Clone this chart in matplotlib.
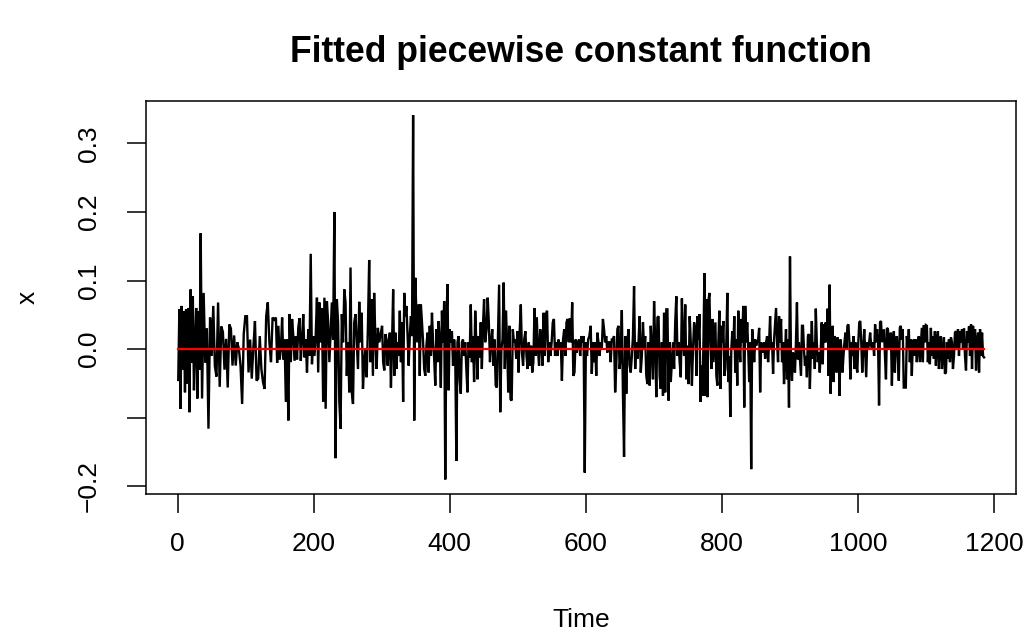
import numpy as np
import matplotlib
matplotlib.use("Agg")
import matplotlib.pyplot as plt

plt.rcParams['font.family'] = ['Liberation Sans', 'DejaVu Sans']

# ---- data: series, segment by segment (start time, end time, values)
seg1a_span = (1, 34)
seg1a = [-0.045, 0.058, -0.087, 0.063, -0.030, 0.055, -0.063, 0.058, -0.050, 0.060, -0.092, 0.087, -0.020,
         0.077, -0.060, 0.010, 0.060, -0.072, 0.055, -0.030, 0.169]
seg1b_span = (36, 142)
seg1b = [-0.072, 0.082, -0.020, 0.030, -0.116,
         0.046, -0.010, 0.063, -0.025, -0.040, 0.068, -0.055, 0.033, 0.025, -0.030, 0.015, -0.056, 0.036,
         0.030, -0.024, 0.020, -0.024, 0.010, 0.000, -0.024, -0.080, 0.022, 0.048, 0.048, -0.034, 0.014,
         -0.043, 0.002, 0.041, -0.046, -0.043, 0.019, -0.029, -0.048, -0.058, 0.048, 0.068, 0.010, -0.019,
         0.046, 0.043]
seg2_span = (144.5, 298)
seg2 = [0.046, -0.020, 0.034, -0.015, 0.000, 0.046, -0.015, 0.014, -0.077, 0.014, -0.104, 0.051, -0.019,
        0.044, 0.019, -0.017, 0.019, -0.015, 0.031, 0.045, -0.017, 0.014, 0.051, -0.012, 0.014, -0.034,
        0.029, -0.010, 0.139, -0.022, 0.019, -0.010, 0.019, 0.075, -0.034, 0.068, 0.010, 0.060, -0.077,
        0.075, -0.087, 0.070, 0.039, -0.019, 0.024, 0.068, 0.014, 0.200, -0.159, 0.073, 0.039, -0.077,
        -0.116, 0.051, 0.010, 0.087, 0.068, -0.039, 0.010, -0.063, 0.119, -0.063, -0.080, 0.039, 0.051,
        0.010, -0.029, 0.069, 0.010, 0.053, -0.058, -0.019, 0.000, -0.041, 0.034, 0.130, -0.019, 0.073,
        -0.039, 0.082, 0.014, -0.029, 0.031, 0.010, 0.019]
seg3_span = (300.5, 452)
seg3 = [0.034, -0.019, -0.031, 0.022, 0.014, -0.024, 0.010, 0.024, -0.056, 0.010, 0.087, -0.039, 0.024,
        -0.029, 0.010, -0.010, 0.056, -0.019, 0.039, -0.077, 0.082, 0.048, 0.063, 0.019, -0.024, 0.019,
        0.048, 0.019, 0.341, -0.104, 0.104, 0.048, 0.010, 0.065, -0.039, 0.065, 0.039, 0.010, -0.029,
        -0.039, 0.005, 0.024, -0.034, 0.034, -0.010, 0.053, 0.010, -0.014, -0.053, 0.029, -0.019, 0.041,
        0.010, -0.056, 0.056, 0.010, 0.070, -0.190, 0.039, 0.095, -0.060, 0.029, 0.010, 0.026, -0.024,
        0.014, -0.010, -0.163, 0.010, 0.019, -0.046, -0.065, 0.010, 0.014, -0.010, 0.010, -0.029, -0.063,
        0.010, -0.012, 0.065, -0.019, 0.019, -0.048, 0.056, 0.010, -0.044, 0.019, -0.012, 0.039, -0.029,
        0.034, 0.073, 0.010]
seg4_span = (454, 605)
seg4 = [0.029, 0.075, 0.039, -0.019, 0.010, 0.029, -0.024, 0.014, -0.053, -0.056, 0.019, 0.094, -0.092,
        0.000, 0.014, 0.097, -0.029, 0.056, 0.010, -0.063, 0.034, -0.073, -0.075, 0.029, 0.010, 0.014,
        -0.014, 0.026, -0.034, 0.024, 0.065, -0.005, -0.024, 0.014, 0.026, -0.010, -0.029, 0.010, -0.024,
        0.005, -0.034, -0.019, 0.060, -0.010, 0.046, 0.000, -0.024, 0.029, 0.010, -0.024, 0.053, -0.010,
        0.051, 0.056, -0.019, 0.010, -0.010, 0.010, 0.039, 0.044, -0.010, 0.010, -0.010, 0.014, 0.000,
        0.010, -0.046, 0.014, 0.029, -0.010, 0.039, 0.044, 0.010, 0.045, 0.010, 0.068, -0.039, -0.034,
        0.014, -0.005, 0.010, 0.014, -0.010, 0.019, 0.010, 0.019, -0.180, 0.010, -0.010, 0.014, 0.019]
seg5_span = (607, 759)
seg5 = [0.034, -0.036, 0.010, -0.019, 0.010, -0.039, 0.024, 0.010, -0.010, 0.010, 0.000, 0.044, 0.029,
        0.010, 0.019, -0.005, 0.010, 0.010, -0.019, 0.014, 0.014, 0.019, -0.063, -0.024, 0.029, 0.034,
        -0.029, -0.010, 0.057, -0.065, -0.157, 0.019, -0.065, 0.010, 0.029, -0.024, -0.034, -0.010, 0.019,
        0.092, -0.029, 0.010, -0.014, 0.010, 0.048, -0.034, -0.010, 0.039, 0.000, 0.019, -0.039, -0.051,
        0.010, -0.053, 0.034, 0.000, -0.044, 0.070, 0.010, -0.070, 0.046, 0.048, -0.039, -0.058, 0.010,
        -0.068, 0.053, -0.063, 0.058, 0.058, -0.075, 0.010, -0.048, -0.019, 0.010, -0.029, 0.039, 0.077,
        -0.010, 0.010, -0.019, -0.041, 0.074, 0.010, -0.010, 0.065, -0.044, 0.005, -0.051, 0.048, 0.010,
        -0.053, 0.000, 0.039]
seg6_span = (761, 913)
seg6 = [0.024, -0.039, 0.048, 0.014, 0.051, -0.077, -0.024, -0.068, 0.010, 0.111, -0.068, 0.073, -0.070,
        0.070, 0.082, 0.010, -0.029, 0.044, -0.019, 0.010, 0.039, -0.039, -0.053, 0.010, 0.056, -0.058,
        0.034, 0.010, 0.041, -0.039, -0.029, 0.010, 0.082, -0.048, -0.010, -0.099, 0.000, 0.026, 0.000,
        0.048, -0.034, 0.014, -0.053, 0.056, 0.010, -0.019, 0.044, 0.010, 0.063, -0.085, 0.063, 0.010,
        0.039, 0.000, -0.048, 0.010, -0.175, 0.029, 0.010, -0.019, 0.014, 0.005, 0.010, 0.014, 0.031,
        -0.063, 0.010, -0.005, 0.000, 0.010, -0.014, 0.010, 0.019, -0.019, 0.010, 0.048, 0.000, 0.010,
        -0.036, 0.014, 0.036, 0.060, 0.010, -0.019, 0.048, 0.010, 0.044, -0.019, 0.010, -0.051, -0.005,
        0.029, -0.044, 0.014, -0.085, 0.135, -0.019, -0.046, -0.005, -0.015, -0.034, 0.010, 0.068, -0.015,
        0.010]
seg7_span = (916, 1067)
seg7 = [-0.039, 0.034, 0.034, 0.000, -0.024, -0.010, -0.041, 0.019, 0.022, -0.058, 0.000, 0.041, -0.014,
        0.010, -0.029, 0.059, 0.010, -0.019, -0.005, -0.034, 0.000, 0.039, -0.022, 0.036, 0.010, 0.039,
        0.010, 0.059, -0.039, 0.094, -0.065, 0.000, 0.034, -0.048, 0.019, 0.014, -0.034, 0.017, 0.010,
        -0.068, 0.014, 0.000, -0.034, -0.010, 0.010, 0.024, 0.000, 0.034, 0.036, 0.010, -0.044, 0.010,
        -0.010, 0.019, -0.029, 0.010, -0.024, -0.034, 0.010, 0.039, 0.041, 0.010, -0.034, 0.000, 0.029,
        -0.005, -0.041, 0.010, 0.000, 0.010, 0.024, 0.005, 0.000, 0.010, -0.010, 0.036, 0.010, 0.029,
        0.010, -0.082, 0.039, 0.041, 0.010, 0.019, 0.029, -0.010, -0.044, 0.031, 0.029, 0.000, 0.010,
        0.024, -0.053, 0.010, 0.026, -0.034, 0.010, 0.019, -0.010, -0.046, 0.031, 0.034, 0.014, 0.029,
        -0.056]
seg8_span = (1070, 1185)
seg8 = [-0.056, 0.019, 0.000, 0.029, -0.019, 0.014, -0.039, 0.010, 0.014, -0.010, 0.014, -0.019, 0.010,
        0.019, -0.019, 0.005, 0.031, -0.019, 0.035, 0.010, 0.035, 0.034, -0.019, 0.010, -0.022, 0.031,
        -0.010, 0.019, -0.014, 0.026, -0.024, 0.010, 0.026, -0.029, 0.010, 0.019, -0.029, -0.010, 0.017,
        -0.036, -0.034, 0.010, -0.014, 0.014, -0.019, 0.017, 0.010, -0.029, -0.010, 0.024, 0.026, 0.000,
        0.029, -0.010, 0.026, 0.010, 0.029, 0.000, 0.030, -0.010, -0.031, 0.026, 0.010, 0.033, -0.010,
        0.036, -0.029, 0.034, 0.000, 0.029, -0.031, 0.010, 0.024, -0.034, 0.029, -0.010, 0.024, -0.010,
        -0.012]

# fitted piecewise constant function: breakpoints and levels
fit_breaks = [1, 1185]
fit_levels = [0.0]

x_ticks = [0, 200, 400, 600, 800, 1000, 1200]
y_ticks = [-0.2, -0.1, 0.0, 0.1, 0.2, 0.3]
y_ticklabels = ["\u22120.2", "", "0.0", "0.1", "0.2", "0.3"]

# ---- build series
segments = [(seg1a_span, seg1a), (seg1b_span, seg1b), (seg2_span, seg2), (seg3_span, seg3),
            (seg4_span, seg4), (seg5_span, seg5), (seg6_span, seg6), (seg7_span, seg7), (seg8_span, seg8)]
t = np.concatenate([np.linspace(s[0], s[1], len(v)) for s, v in segments])
x = np.concatenate([np.asarray(v, float) for s, v in segments])

# ---- figure
fig = plt.figure(figsize=(10.36, 6.38), dpi=100)
L, R, T, B = 146 / 1036, 1016.3 / 1036, 1 - 100.7 / 638, 1 - 494 / 638
ax = fig.add_axes([L, B, R - L, T - B])

ax.plot(t, x, color="black", lw=1.7, solid_joinstyle="miter")
fx, fy = [], []
for i, lev in enumerate(fit_levels):
    fx += [fit_breaks[i], fit_breaks[i + 1]]
    fy += [lev, lev]
ax.plot(fx, fy, color="#FF0000", lw=1.6)

# R-style 4% axis extension
tr = t.max() - t.min()
ax.set_xlim(t.min() - 0.04 * tr, t.max() + 0.04 * tr)
yr = x.max() - x.min()
ax.set_ylim(x.min() - 0.04 * yr, x.max() + 0.04 * yr)

ax.set_xticks(x_ticks)
ax.set_xticklabels([str(v) for v in x_ticks])
ax.set_yticks(y_ticks)
ax.set_yticklabels(y_ticklabels, rotation=90, va="center")

for sp in ax.spines.values():
    sp.set_linewidth(1.1)
ax.tick_params(axis="both", direction="out", length=13.5, width=1.1, labelsize=19, colors="black")
ax.tick_params(axis="x", pad=14)
ax.tick_params(axis="y", pad=19)

fig.text((L + R) / 2, 1 - 52 / 638, "Fitted piecewise constant function", ha="center", va="center",
         fontsize=25.6, fontweight="bold")
fig.text((L + R) / 2, 1 - 620 / 638, "Time", ha="center", va="center", fontsize=19)
fig.text(28 / 1036, (T + B) / 2, "x", ha="center", va="center", rotation=90, fontsize=19)

fig.savefig("out.png", dpi=100)
